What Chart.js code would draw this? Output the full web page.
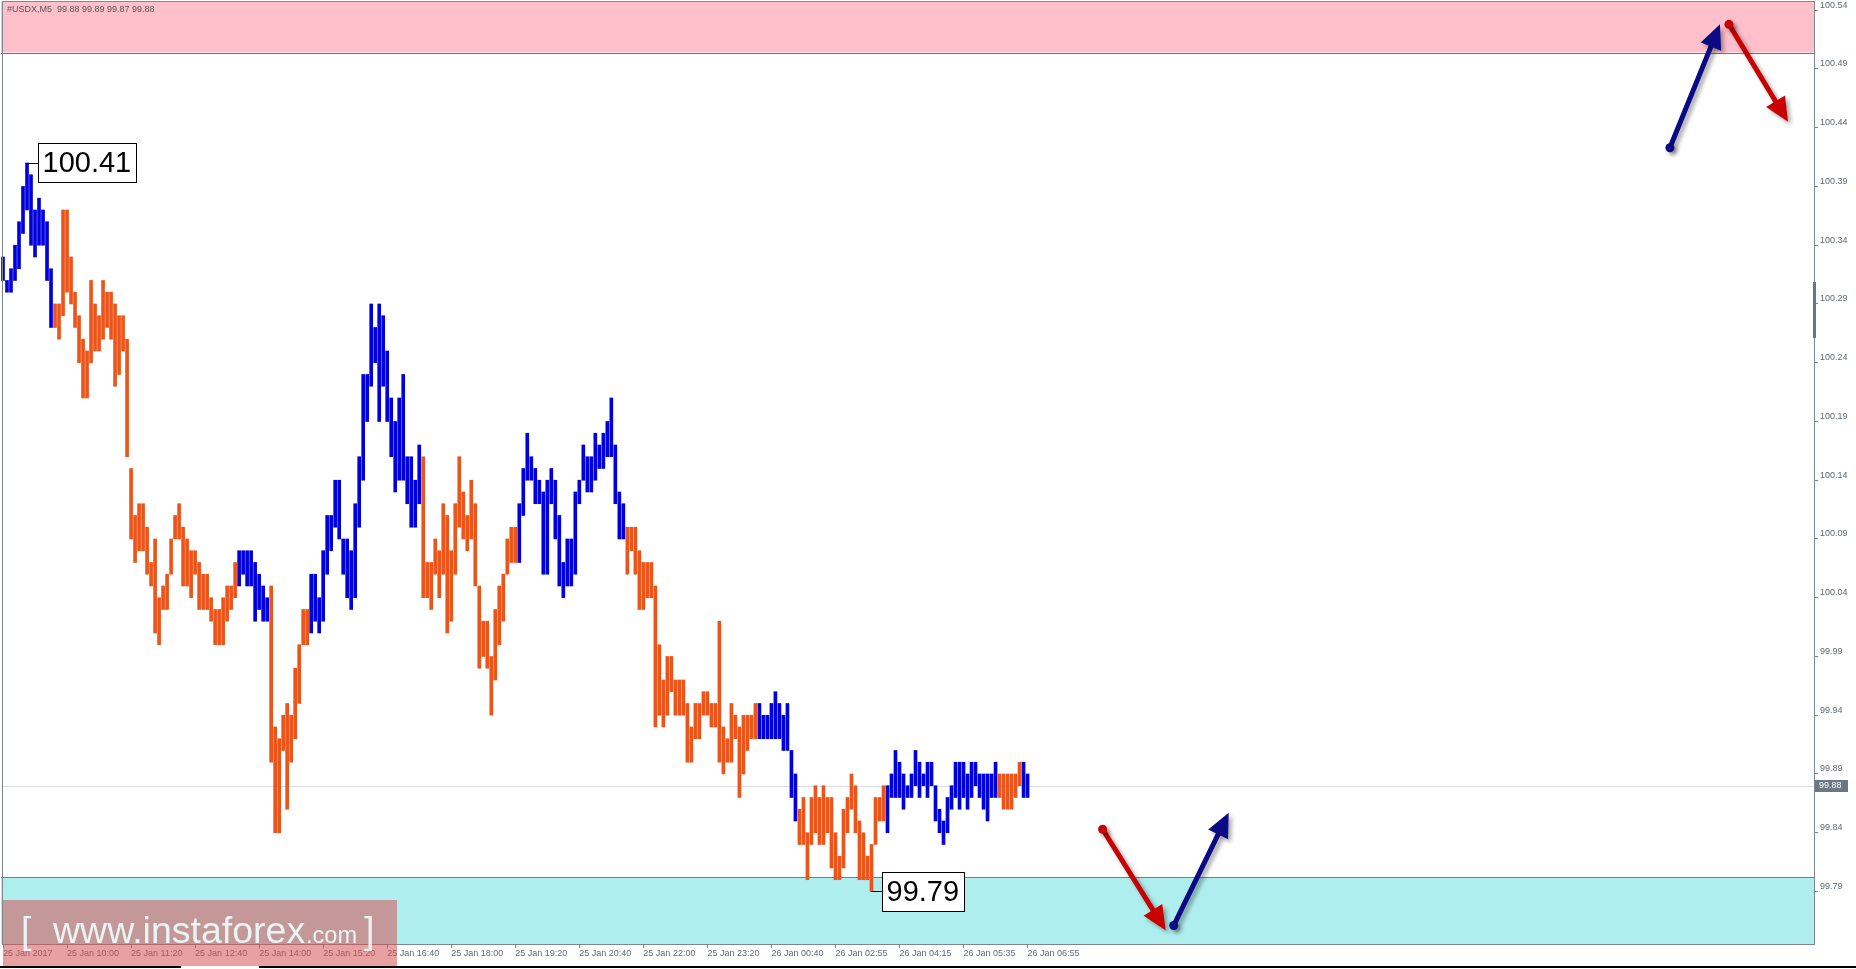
<!DOCTYPE html>
<html>
<head>
<meta charset="utf-8">
<title>#USDX,M5</title>
<script src="https://cdn.jsdelivr.net/npm/chart.js@4.4.1/dist/chart.umd.min.js"></script>
<style>
  html, body { margin: 0; padding: 0; background: #fff; overflow: hidden; }
  canvas { display: block; }
</style>
</head>
<body>
<canvas id="chart" width="1856" height="969"></canvas>
<script>
// --- data (one entry per bar, left to right) ---
var barHigh = [
  100.33, 100.31, 100.32, 100.34, 100.36, 100.39, 100.41, 100.40, 100.37, 100.38,
  100.37, 100.36, 100.32, 100.29, 100.29, 100.37, 100.37, 100.33, 100.30, 100.28,
  100.26, 100.25, 100.31, 100.29, 100.28, 100.31, 100.30, 100.30, 100.29, 100.28,
  100.28, 100.26, 100.15, 100.11, 100.12, 100.12, 100.10, 100.07, 100.09, 100.04,
  100.05, 100.06, 100.09, 100.11, 100.12, 100.10, 100.09, 100.08, 100.08, 100.07,
  100.06, 100.06, 100.04, 100.03, 100.03, 100.04, 100.05, 100.05, 100.07, 100.08,
  100.08, 100.08, 100.08, 100.07, 100.06, 100.05, 100.04, 100.05, 99.93, 99.92,
  99.94, 99.95, 99.94, 99.98, 100.00, 100.03, 100.03, 100.06, 100.06, 100.04,
  100.08, 100.11, 100.11, 100.14, 100.14, 100.09, 100.09, 100.08, 100.12, 100.16,
  100.23, 100.23, 100.29, 100.27, 100.29, 100.28, 100.25, 100.21, 100.19, 100.21,
  100.23, 100.16, 100.16, 100.14, 100.17, 100.16, 100.07, 100.07, 100.09, 100.08,
  100.12, 100.11, 100.08, 100.12, 100.16, 100.13, 100.11, 100.14, 100.12, 100.05,
  100.02, 100.02, 99.99, 100.03, 100.05, 100.06, 100.09, 100.10, 100.10, 100.12,
  100.15, 100.18, 100.16, 100.15, 100.14, 100.13, 100.14, 100.15, 100.14, 100.11,
  100.07, 100.09, 100.09, 100.13, 100.14, 100.17, 100.16, 100.16, 100.18, 100.17,
  100.18, 100.19, 100.21, 100.17, 100.13, 100.12, 100.10, 100.10, 100.10, 100.08,
  100.07, 100.07, 100.07, 100.05, 100.00, 99.97, 99.99, 99.99, 99.97, 99.97,
  99.97, 99.95, 99.93, 99.95, 99.95, 99.96, 99.96, 99.95, 99.95, 100.02,
  99.93, 99.92, 99.95, 99.94, 99.93, 99.94, 99.94, 99.94, 99.95, 99.95,
  99.94, 99.94, 99.95, 99.96, 99.95, 99.94, 99.95, 99.91, 99.89, 99.86,
  99.87, 99.84, 99.87, 99.88, 99.87, 99.88, 99.87, 99.87, 99.84, 99.82,
  99.86, 99.87, 99.89, 99.88, 99.85, 99.84, 99.82, 99.83, 99.87, 99.87,
  99.88, 99.88, 99.89, 99.91, 99.90, 99.89, 99.88, 99.89, 99.91, 99.90,
  99.89, 99.90, 99.90, 99.88, 99.86, 99.85, 99.87, 99.88, 99.90, 99.90,
  99.90, 99.89, 99.90, 99.90, 99.89, 99.89, 99.89, 99.89, 99.90, 99.89,
  99.89, 99.89, 99.89, 99.89, 99.90, 99.90, 99.89
];
var barLow = [
  100.31, 100.30, 100.30, 100.31, 100.32, 100.35, 100.37, 100.34, 100.33, 100.34,
  100.34, 100.31, 100.27, 100.27, 100.26, 100.28, 100.30, 100.29, 100.27, 100.24,
  100.21, 100.21, 100.24, 100.25, 100.25, 100.26, 100.27, 100.26, 100.22, 100.23,
  100.25, 100.16, 100.09, 100.07, 100.08, 100.08, 100.06, 100.05, 100.01, 100.00,
  100.03, 100.03, 100.06, 100.09, 100.09, 100.05, 100.05, 100.04, 100.06, 100.03,
  100.03, 100.03, 100.02, 100.00, 100.00, 100.00, 100.02, 100.03, 100.04, 100.05,
  100.06, 100.05, 100.05, 100.02, 100.03, 100.02, 100.02, 99.90, 99.84, 99.84,
  99.91, 99.86, 99.90, 99.92, 99.95, 100.00, 100.00, 100.01, 100.02, 100.01,
  100.02, 100.06, 100.08, 100.10, 100.09, 100.06, 100.04, 100.03, 100.04, 100.10,
  100.14, 100.19, 100.22, 100.24, 100.19, 100.22, 100.19, 100.16, 100.13, 100.14,
  100.14, 100.12, 100.10, 100.10, 100.12, 100.04, 100.04, 100.03, 100.06, 100.04,
  100.06, 100.01, 100.02, 100.06, 100.10, 100.09, 100.08, 100.09, 100.05, 99.98,
  99.99, 99.98, 99.94, 99.97, 100.00, 100.02, 100.06, 100.07, 100.07, 100.07,
  100.11, 100.14, 100.14, 100.12, 100.12, 100.06, 100.06, 100.12, 100.09, 100.05,
  100.04, 100.05, 100.05, 100.06, 100.12, 100.14, 100.13, 100.13, 100.14, 100.15,
  100.15, 100.16, 100.16, 100.12, 100.09, 100.09, 100.06, 100.08, 100.06, 100.03,
  100.03, 100.04, 100.04, 99.93, 99.94, 99.93, 99.94, 99.96, 99.94, 99.94,
  99.94, 99.90, 99.90, 99.92, 99.92, 99.94, 99.94, 99.93, 99.93, 99.90,
  99.89, 99.90, 99.90, 99.92, 99.87, 99.89, 99.91, 99.92, 99.92, 99.92,
  99.92, 99.92, 99.92, 99.92, 99.92, 99.91, 99.91, 99.87, 99.85, 99.83,
  99.83, 99.80, 99.83, 99.84, 99.83, 99.83, 99.84, 99.81, 99.80, 99.80,
  99.81, 99.84, 99.86, 99.84, 99.80, 99.80, 99.80, 99.79, 99.83, 99.85,
  99.85, 99.84, 99.87, 99.87, 99.87, 99.86, 99.87, 99.87, 99.88, 99.87,
  99.88, 99.87, 99.88, 99.85, 99.84, 99.83, 99.84, 99.86, 99.87, 99.86,
  99.87, 99.86, 99.87, 99.88, 99.87, 99.86, 99.85, 99.87, 99.87, 99.87,
  99.86, 99.86, 99.86, 99.87, 99.88, 99.87, 99.87
];
// b = blue bar, o = orange bar
var barSide = (
  'bbbbbbbbbbbbb' +
  'oooooooooooooooooooooooooooooooooooooooooooooo' +
  'bbbbbbbb' +
  'oooooooooo' +
  'bbbbbbbbbbbbbbbbbbbbbbbbbbbb' +
  'oooooooooooooooooooooooo' +
  'bbbbbbbbbbbbbbbbbbbbbbbbbbb' +
  'ooooooooooooooooooooooooooooooooo' +
  'bbbbbbbbbb' +
  'oooooooooooooooooooooo' +
  'bbbbbbbbbbbbbbbbbbbbbbbbbbbb' +
  'oooooo' +
  'bb'
).split('');

var timeLabels = [
  '25 Jan 2017', '25 Jan 10:00', '25 Jan 11:20', '25 Jan 12:40', '25 Jan 14:00',
  '25 Jan 15:20', '25 Jan 16:40', '25 Jan 18:00', '25 Jan 19:20', '25 Jan 20:40',
  '25 Jan 22:00', '25 Jan 23:20', '26 Jan 00:40', '26 Jan 02:55', '26 Jan 04:15',
  '26 Jan 05:35', '26 Jan 06:55'
];
var barsPerLabel = 16;
var slotCount = 453;           // bar slots across the visible window (incl. empty future)

var priceTicks = [100.54, 100.49, 100.44, 100.39, 100.34, 100.29, 100.24, 100.19,
                  100.14, 100.09, 100.04, 99.99, 99.94, 99.89, 99.84, 99.79];
var priceMin = 99.7453, priceMax = 100.547;

var lastPrice = 99.88;
var headerText = '#USDX,M5  99.88 99.89 99.87 99.88';
var resistanceZone = [100.504, 100.70];
var supportZone = [99.60, 99.802];

// forecast arrows: [fromBar, fromPrice, toBar, toPrice, colour]
var arrows = [
  [274.75, 99.843, 290.5, 99.757, '#C80000'],
  [292.5, 99.761, 306.25, 99.857, '#0A0A84'],
  [416.5, 100.423, 429.0, 100.528, '#0A0A84'],
  [431.25, 100.528, 446.0, 100.445, '#C80000']
];

var BLUE = '#0000DC';
var ORANGE = '#EC5419';
var AXIS = '#7d8791';
var FONT = '"Liberation Sans", Arial, sans-serif';

Chart.defaults.font.family = FONT;

var xLabels = [];
for (var s = 0; s < slotCount; s++) {
  xLabels.push(s % barsPerLabel === 0 && timeLabels[s / barsPerLabel] ? timeLabels[s / barsPerLabel] : '');
}

function drawArrow(ctx, x1, y1, x2, y2, color) {
  var ang = Math.atan2(y2 - y1, x2 - x1);
  var headLen = 24, headW = 11;
  var bx = x2 - headLen * Math.cos(ang), by = y2 - headLen * Math.sin(ang);
  ctx.save();
  ctx.shadowColor = 'rgba(0,0,0,0.35)';
  ctx.shadowBlur = 4;
  ctx.shadowOffsetX = 3;
  ctx.shadowOffsetY = 3;
  ctx.strokeStyle = color;
  ctx.fillStyle = color;
  ctx.lineWidth = 5;
  ctx.lineCap = 'round';
  ctx.beginPath();
  ctx.moveTo(x1, y1);
  ctx.lineTo(bx, by);
  ctx.stroke();
  ctx.beginPath();
  ctx.moveTo(x2, y2);
  ctx.lineTo(bx + headW * Math.sin(ang), by - headW * Math.cos(ang));
  ctx.lineTo(bx - headW * Math.sin(ang), by + headW * Math.cos(ang));
  ctx.closePath();
  ctx.fill();
  ctx.beginPath();
  ctx.arc(x1, y1, 4.5, 0, Math.PI * 2);
  ctx.fill();
  ctx.restore();
}

function drawPriceBox(ctx, x, y, text) {
  ctx.save();
  ctx.font = '29px ' + FONT;
  var w = Math.round(ctx.measureText(text).width) + 9, h = 39;
  var bx = Math.round(x + 11) + 0.5, by = Math.round(y - h / 2) + 0.5;
  ctx.strokeStyle = '#000';
  ctx.lineWidth = 1;
  ctx.beginPath();
  ctx.moveTo(x, Math.round(y) + 0.5);
  ctx.lineTo(bx, Math.round(y) + 0.5);
  ctx.stroke();
  ctx.fillStyle = '#fff';
  ctx.fillRect(bx, by, w, h);
  ctx.strokeRect(bx, by, w, h);
  ctx.fillStyle = '#000';
  ctx.textBaseline = 'middle';
  ctx.fillText(text, bx + 4, by + h / 2 + 1);
  ctx.restore();
}

var mtPlugin = {
  id: 'mtDecor',
  beforeDraw: function(chart) {
    var ctx = chart.ctx;
    ctx.save();
    ctx.fillStyle = '#fff';
    ctx.fillRect(0, 0, chart.width, chart.height);
    ctx.restore();
  },
  beforeDatasetsDraw: function(chart) {
    var ctx = chart.ctx, a = chart.chartArea, y = chart.scales.y;
    ctx.save();
    ctx.beginPath();
    ctx.rect(a.left, a.top, a.right - a.left, a.bottom - a.top);
    ctx.clip();
    // resistance zone
    var r0 = y.getPixelForValue(resistanceZone[1]), r1 = y.getPixelForValue(resistanceZone[0]);
    ctx.fillStyle = '#FFC0CB';
    ctx.fillRect(a.left, r0, a.right - a.left, r1 - r0);
    ctx.fillStyle = '#C9504F';
    ctx.fillRect(a.left, Math.round(r1), a.right - a.left, 1);
    // support zone
    var s0 = y.getPixelForValue(supportZone[1]), s1 = y.getPixelForValue(supportZone[0]);
    ctx.fillStyle = '#AFEEEE';
    ctx.fillRect(a.left, s0, a.right - a.left, s1 - s0);
    ctx.fillStyle = '#3F8DC6';
    ctx.fillRect(a.left, Math.round(s0), a.right - a.left, 1);
    // last price line
    ctx.fillStyle = '#DCDCEE';
    ctx.fillRect(a.left, Math.round(y.getPixelForValue(lastPrice)), a.right - a.left, 1);
    ctx.restore();
  },
  afterDatasetsDraw: function(chart) {
    var ctx = chart.ctx, x = chart.scales.x, y = chart.scales.y;
    var hi = Math.max.apply(null, barHigh), lo = Math.min.apply(null, barLow);
    var hiIdx = barHigh.indexOf(hi), loIdx = barLow.lastIndexOf(lo);
    drawPriceBox(ctx, x.getPixelForValue(hiIdx), y.getPixelForValue(hi), hi.toFixed(2));
    drawPriceBox(ctx, x.getPixelForValue(loIdx), y.getPixelForValue(lo), lo.toFixed(2));
    arrows.forEach(function(ar) {
      drawArrow(ctx, x.getPixelForValue(ar[0]), y.getPixelForValue(ar[1]),
                x.getPixelForValue(ar[2]), y.getPixelForValue(ar[3]), ar[4]);
    });
  },
  afterDraw: function(chart) {
    var ctx = chart.ctx, a = chart.chartArea, y = chart.scales.y;
    ctx.save();
    // frame
    ctx.strokeStyle = AXIS;
    ctx.lineWidth = 1;
    ctx.strokeRect(2.5, 1.5, Math.round(a.right) - 2, Math.round(a.bottom) - 1);
    // scroll thumb on the price axis
    ctx.fillStyle = '#6a7581';
    ctx.fillRect(Math.round(a.right) - 1, 282, 3, 56);
    // header
    ctx.fillStyle = '#555';
    ctx.font = '9px ' + FONT;
    ctx.textBaseline = 'middle';
    ctx.fillText(headerText, 7, 10);
    // last price tag
    var py = Math.round(y.getPixelForValue(lastPrice));
    ctx.fillStyle = '#6b7785';
    ctx.fillRect(Math.round(a.right) + 1, py - 6, 33, 12);
    ctx.fillStyle = '#fff';
    ctx.fillText(lastPrice.toFixed(2), Math.round(a.right) + 5, py);
    // watermark
    ctx.fillStyle = 'rgba(213,82,82,0.55)';
    ctx.fillRect(3, 900, 394, 66);
    ctx.fillStyle = 'rgba(236,252,252,0.92)';
    ctx.textBaseline = 'alphabetic';
    ctx.font = '40px ' + FONT;
    var w40 = ctx.measureText('www.instaforex').width;
    var big = 40 * 252 / w40;
    ctx.font = big.toFixed(1) + 'px ' + FONT;
    ctx.fillText('[', 21, 943);
    ctx.fillText('www.instaforex', 53, 943);
    ctx.font = (big * 0.63).toFixed(1) + 'px ' + FONT;
    ctx.fillText('.com', 306, 943);
    ctx.font = big.toFixed(1) + 'px ' + FONT;
    ctx.fillText(']', 364, 943);
    // terminal tabs line
    ctx.fillStyle = '#000';
    ctx.fillRect(0, 966, 181, 2);
    ctx.fillRect(259, 966, chart.width - 259, 2);
    ctx.restore();
  }
};

new Chart(document.getElementById('chart'), {
  type: 'bar',
  data: {
    labels: xLabels,
    datasets: [{
      data: barLow.map(function(l, i) { return [l, barHigh[i]]; }),
      backgroundColor: barSide.map(function(c) { return c === 'b' ? BLUE : ORANGE; }),
      borderWidth: 0,
      barThickness: 3
    }]
  },
  options: {
    responsive: false,
    animation: false,
    layout: { padding: { top: 2, left: 1, right: 0, bottom: 0 } },
    plugins: { legend: { display: false }, tooltip: { enabled: false } },
    scales: {
      x: {
        type: 'category',
        offset: true,
        border: { display: false },
        grid: { drawOnChartArea: false, drawTicks: true, tickLength: 4, offset: false, color: AXIS },
        ticks: {
          autoSkip: false, maxRotation: 0, minRotation: 0, align: 'start', padding: 0,
          color: '#5d6975', font: { size: 9 }
        },
        afterBuildTicks: function(scale) {
          scale.ticks = scale.ticks.filter(function(t) { return xLabels[t.value] !== ''; });
        },
        afterFit: function(scale) {
          scale.height = 25;
          scale.paddingLeft = 0;
          scale.paddingRight = 0;
        }
      },
      y: {
        position: 'right',
        min: priceMin,
        max: priceMax,
        border: { display: false },
        grid: { drawOnChartArea: false, drawTicks: true, tickLength: 4, color: AXIS },
        ticks: {
          padding: 2, labelOffset: -5, color: '#5d6975', font: { size: 9 },
          callback: function(v) { return Number(v).toFixed(2); }
        },
        afterBuildTicks: function(scale) {
          scale.ticks = priceTicks.map(function(v) { return { value: v }; });
        },
        afterFit: function(scale) {
          scale.width = 42;
          scale.paddingTop = 0;
          scale.paddingBottom = 0;
        }
      }
    }
  },
  plugins: [mtPlugin]
});
</script>
</body>
</html>
